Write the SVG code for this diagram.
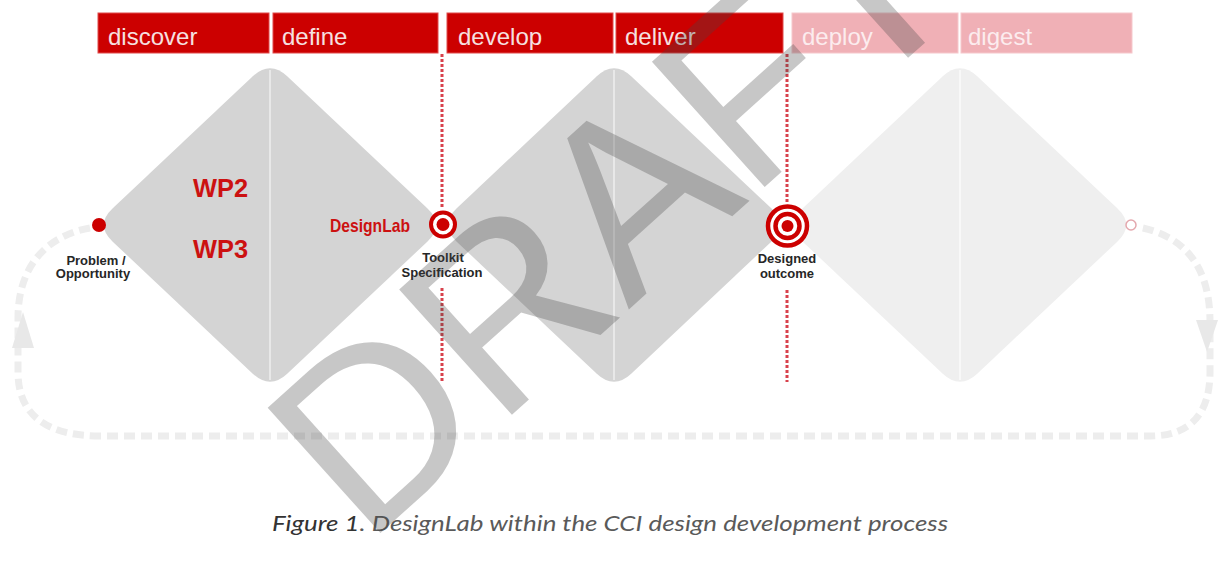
<svg xmlns="http://www.w3.org/2000/svg" xmlns:xlink="http://www.w3.org/1999/xlink" width="1220" height="569" viewBox="0 0 1220 569">
<style>
.hdr{fill:#cc0000;stroke:#e04a4a;stroke-width:1}
.hdr2{fill:#f0b0b6;stroke:#f6c8cc;stroke-width:1}
.htxt{font-family:"Liberation Sans",Arial,sans-serif;font-size:24px;fill:#f6e0e0}
.htxt2{font-family:"Liberation Sans",Arial,sans-serif;font-size:24px;fill:#fcecee}
.dia{fill:#d4d4d4}
.dia3{fill:#efefef}
.div{stroke:#e8e8e8;stroke-width:2}
.dots{stroke:#d8414b;stroke-width:3;stroke-dasharray:3 2;fill:none}
.loop{fill:none;stroke:#ededed;stroke-width:7;stroke-dasharray:11 6}
.lab{font-family:"Liberation Sans",Arial,sans-serif;font-size:13px;font-weight:bold;fill:#262626;text-anchor:middle}
.wp{font-family:"Liberation Sans",Arial,sans-serif;font-weight:bold;fill:#cc1111}
.red{fill:#cc0000}
</style>
<defs>
<path id="dshape" d="M-17.5,-148.5 Q0,-165 17.5,-148.5 L157.5,-16.5 Q175,0 157.5,16.5 L17.5,148.5 Q0,165 -17.5,148.5 L-157.5,16.5 Q-175,0 -157.5,-16.5 Z"/>
</defs>
<rect width="1220" height="569" fill="#ffffff"/>

<g id="connectors">
<path class="loop" d="M90,228 C45,236 18,268 18,318 L18,372 C18,416 48,436 100,436 L1150,436 C1190,436 1210,414 1210,372 L1210,322 C1210,268 1186,236 1138,227"/>
<polygon points="23,312 12,348 34,348" fill="#e8e8e8"/>
<polygon points="1207,352 1196,320 1218,320" fill="#e8e8e8"/>
</g>

<g id="diamond-1"><use xlink:href="#dshape" href="#dshape" x="270" y="225" class="dia"/><line class="div" x1="270" y1="70" x2="270" y2="380"/></g>
<g id="diamond-2"><use xlink:href="#dshape" href="#dshape" x="614" y="225" class="dia"/><line class="div" x1="614" y1="70" x2="614" y2="380"/></g>
<g id="diamond-3"><use xlink:href="#dshape" href="#dshape" x="960" y="225" class="dia3"/><line stroke="#f8f8f8" stroke-width="2" x1="960" y1="70" x2="960" y2="380"/></g>

<g id="dotted-lines">
<line class="dots" x1="442" y1="54" x2="442" y2="208"/>
<line class="dots" x1="442" y1="288" x2="442" y2="382"/>
<line class="dots" x1="787" y1="54" x2="787" y2="202"/>
<line class="dots" x1="787" y1="290" x2="787" y2="382"/>
</g>

<g id="phase-discover"><rect class="hdr" x="98" y="13" width="171" height="40"/><text class="htxt" x="108" y="45">discover</text></g>
<g id="phase-define"><rect class="hdr" x="273" y="13" width="165" height="40"/><text class="htxt" x="282" y="45">define</text></g>
<g id="phase-develop"><rect class="hdr" x="447" y="13" width="166" height="40"/><text class="htxt" x="458" y="45">develop</text></g>
<g id="phase-deliver"><rect class="hdr" x="616" y="13" width="167" height="40"/><text class="htxt" x="625" y="45">deliver</text></g>
<g id="phase-deploy"><rect class="hdr2" x="792" y="13" width="166" height="40"/><text class="htxt2" x="802" y="45">deploy</text></g>
<g id="phase-digest"><rect class="hdr2" x="961" y="13" width="171" height="40"/><text class="htxt2" x="968" y="45">digest</text></g>

<g id="wp-labels">
<text class="wp" x="193" y="197" font-size="26" textLength="55" lengthAdjust="spacingAndGlyphs">WP2</text>
<text class="wp" x="193" y="258" font-size="26" textLength="55" lengthAdjust="spacingAndGlyphs">WP3</text>
</g>

<g id="node-problem">
<circle class="red" cx="99" cy="225" r="7"/>
<text class="lab" x="96" y="265">Problem /</text>
<text class="lab" x="93" y="278">Opportunity</text>
</g>

<g id="node-toolkit">
<text class="wp" x="330" y="232" font-size="19" textLength="80" lengthAdjust="spacingAndGlyphs">DesignLab</text>
<circle cx="443" cy="224.5" r="12" fill="#ffffff" stroke="#cc0000" stroke-width="4"/>
<circle class="red" cx="443" cy="224.5" r="6.5"/>
<text class="lab" x="443" y="262">Toolkit</text>
<text class="lab" x="442" y="277">Specification</text>
</g>

<g id="node-designed">
<circle cx="787.5" cy="226" r="19.5" fill="#ffffff" stroke="#cc0000" stroke-width="4.5"/>
<circle cx="787.5" cy="226" r="12" fill="#ffffff" stroke="#cc0000" stroke-width="4.5"/>
<circle class="red" cx="787.5" cy="226" r="6"/>
<text class="lab" x="787" y="263">Designed</text>
<text class="lab" x="787" y="278">outcome</text>
</g>

<g id="node-end">
<circle cx="1131" cy="225" r="5" fill="none" stroke="#e4a8ae" stroke-width="1.5"/>
</g>

<text x="272" y="531" font-family="Lato,'Open Sans',sans-serif" font-style="italic" font-size="21" textLength="676" lengthAdjust="spacingAndGlyphs"><tspan fill="#333333">Figure 1</tspan><tspan fill="#5a5a5a">. DesignLab within the CCI design development process</tspan></text>

<g id="watermark" transform="translate(610,208) rotate(-42)">
<text x="0" y="88" text-anchor="middle" font-family="'Liberation Sans',Arial,sans-serif" font-size="245" fill="#444444" fill-opacity="0.3">DRAFT</text>
</g>
</svg>
